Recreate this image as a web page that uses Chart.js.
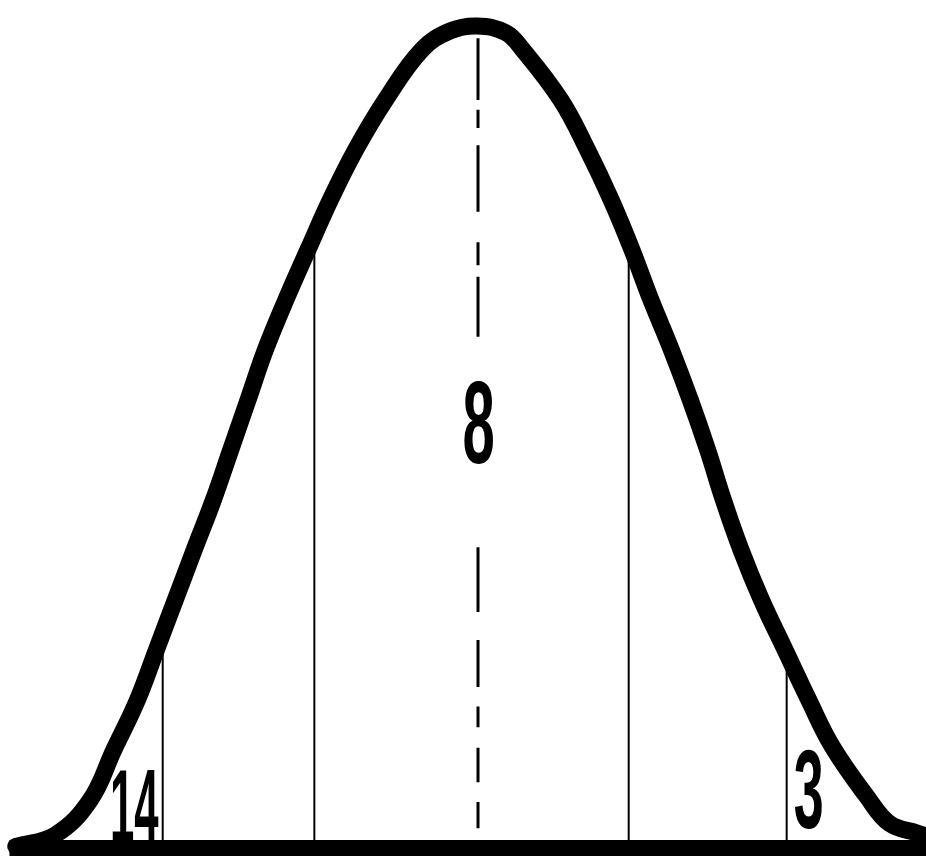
<!DOCTYPE html>
<html><head><meta charset="utf-8">
<script src="https://cdn.jsdelivr.net/npm/chart.js@4"></script>
<style>html,body{margin:0;padding:0;background:#fff}canvas{display:block}</style>
</head><body>
<canvas id="c" width="926" height="867"></canvas>
<script>
// Bell curve (x in standard-deviation units, y as % of peak height)
const curveX = [-2.92,-2.67,-2.45,-2.30,-2.15,-2.03,-1.91,-1.79,-1.67,-1.56,-1.45,-1.34,-1.21,-1.07,-0.93,-0.77,-0.58,-0.35,-0.17,0,0.18,0.29,0.53,0.70,0.85,0.98,1.10,1.23,1.35,1.46,1.56,1.67,1.80,1.95,2.10,2.25,2.47,2.61,2.79,2.84];
const curveY = [0.2,1.6,5.8,11.9,18.0,24.1,30.2,36.3,42.3,48.4,54.5,60.6,66.7,72.8,78.8,84.9,91.0,97.1,99.4,100,99.2,97.1,91.0,84.9,78.8,72.8,66.7,60.6,54.5,48.4,42.3,36.3,30.2,24.1,18.0,12.3,6.2,3.0,1.8,1.5];
// Region dividers
const dividerX = [-1.99,-1.03,0.96,1.96];
const dividerTop = [25,74,73,23];
// Dashed centre line segments
const centerX = 0.006;
const dashTop = [98.5,89.8,85.5,73.7,69.5,36.6,25.3,17.2,12.2,5.6];
const dashBottom = [91.0,87.6,77.4,70.9,62.2,28.7,19.6,14.7,8.0,2.4];
// Baseline extent
const baselineX = [-2.96, 2.842];
// Region labels
const regionLabels = ['14','8','3'];
const labelX = [-2.17, 0.01, 2.10];
const labelY = [0.7, 46.8, 2.4];

const curveData = curveX.map((x,i)=>({x, y: curveY[i]}));
const dividerData = [];
dividerX.forEach((x,i)=>{ dividerData.push({x,y:0},{x,y:dividerTop[i]},{x,y:null}); });
const dashData = [];
dashTop.forEach((t,i)=>{ dashData.push({x:centerX,y:t},{x:centerX,y:dashBottom[i]},{x:centerX,y:null}); });
const baselineData = baselineX.map(x=>({x,y:0}));

const bg = {id:'bg', beforeDraw(c){const ctx=c.ctx;ctx.save();ctx.fillStyle='#fff';ctx.fillRect(0,0,c.width,c.height);ctx.restore();}};
const labelsPlugin = {
  id:'regionLabels',
  afterDatasetsDraw(c, args, opts){
    const ctx=c.ctx, xs=c.scales.x, ys=c.scales.y;
    regionLabels.forEach((t,i)=>{
      const st = opts.styles[i];
      ctx.save();
      ctx.translate(xs.getPixelForValue(labelX[i]), ys.getPixelForValue(labelY[i]));
      ctx.scale(st.sx,1);
      ctx.font = 'bold '+st.size+"px 'Liberation Sans', Arial, sans-serif";
      ctx.fillStyle='#000';
      ctx.textAlign='center';
      ctx.textBaseline='alphabetic';
      ctx.fillText(t,0,0);
      ctx.restore();
    });
  }
};

new Chart(document.getElementById('c'), {
  type:'line',
  data:{datasets:[
    {data:curveData, borderColor:'#000', borderWidth:17, pointRadius:0, tension:0.4, borderCapStyle:'round', borderJoinStyle:'round', fill:false},
    {data:baselineData, borderColor:'#000', borderWidth:16, pointRadius:0, borderCapStyle:'butt', fill:false},
    {data:dashData, borderColor:'#000', borderWidth:3, pointRadius:0, spanGaps:false, fill:false},
    {data:dividerData, borderColor:'#000', borderWidth:2, pointRadius:0, spanGaps:false, fill:false}
  ]},
  options:{
    responsive:false, animation:false,
    layout:{padding:0},
    scales:{
      x:{type:'linear', min:-3.02, max:2.842, display:false},
      y:{type:'linear', min:-2.31, max:103.16, display:false}
    },
    plugins:{
      legend:{display:false}, tooltip:{enabled:false},
      regionLabels:{styles:[{size:104,sx:0.42},{size:116,sx:0.5},{size:112,sx:0.48}]}
    }
  },
  plugins:[bg, labelsPlugin]
});
</script>
</body></html>
